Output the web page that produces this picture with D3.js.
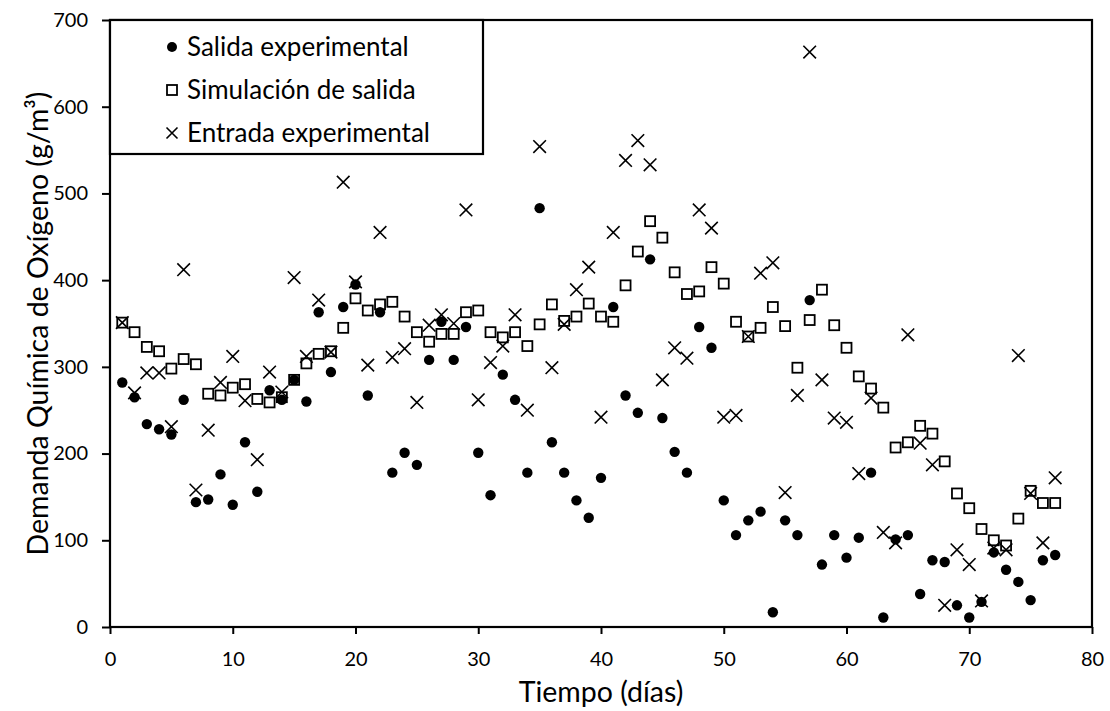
<!DOCTYPE html>
<html>
<head>
<meta charset="utf-8">
<script src="https://cdn.jsdelivr.net/npm/d3@7"></script>
<style>
  html, body { margin: 0; padding: 0; background: #fff; }
  svg { display: block; font-family: Lato, "Open Sans", sans-serif; }
</style>
</head>
<body>
<svg id="chart" width="1110" height="711"></svg>
<script>
// Days of measurement
const days = d3.range(1, 78);

// Chemical oxygen demand, g/m3
const salidaExperimental = [282,265,234,228,222,262,144,147,176,141,213,156,273,262,285,260,363,294,369,395,
  267,363,178,201,187,308,352,308,346,201,152,291,262,178,483,213,178,146,126,172,369,267,247,424,241,202,178,
  346,322,146,106,123,133,17,123,106,377,72,106,80,103,178,11,101,106,38,77,75,25,11,29,86,66,52,31,77,83];

const simulacionSalida = [351,340,323,318,298,309,303,269,267,276,280,263,259,265,285,304,315,318,345,379,
  365,372,375,358,340,329,338,338,363,365,340,334,340,324,349,372,353,358,373,358,352,394,433,468,449,409,384,
  387,415,396,352,335,345,369,347,299,354,389,348,322,289,275,253,207,213,232,223,191,154,137,113,100,94,125,157,143,143];

const entradaExperimental = [351,270,293,293,231,412,158,227,282,312,261,193,294,271,403,312,377,317,513,398,
  302,455,311,321,259,348,360,350,481,262,305,324,360,250,554,299,349,389,415,242,455,538,561,533,285,322,310,
  481,460,242,244,335,408,420,155,267,663,285,241,236,177,264,109,97,337,212,187,25,89,72,30,91,89,313,154,97,172];

const xTicks = [0,10,20,30,40,50,60,70,80];
const yTicks = [0,100,200,300,400,500,600,700];
const seriesNames = ["Salida experimental", "Simulación de salida", "Entrada experimental"];

const svg = d3.select("#chart");
const plotLeft = 110, plotRight = 1092, plotTop = 20, plotBottom = 627;

const x = d3.scaleLinear().domain([0, 80]).range([plotLeft, plotRight]);
const y = d3.scaleLinear().domain([0, 700]).range([plotBottom, plotTop]);

// Axes
const xAxis = svg.append("g")
  .attr("transform", `translate(0,${plotBottom})`)
  .call(d3.axisBottom(x).tickValues(xTicks).tickSize(7).tickPadding(18).tickFormat(d3.format("d")));
const yAxis = svg.append("g")
  .attr("transform", `translate(${plotLeft},0)`)
  .call(d3.axisLeft(y).tickValues(yTicks).tickSize(8).tickPadding(14).tickFormat(d3.format("d")));

[xAxis, yAxis].forEach(g => {
  g.select(".domain").remove();
  g.selectAll(".tick line").attr("stroke", "#000").attr("stroke-width", 2);
  g.selectAll(".tick text").attr("fill", "#000").style("font-size", "20px")
    .style("font-family", "Lato, sans-serif");
});

// Plot frame
svg.append("rect")
  .attr("x", plotLeft).attr("y", plotTop)
  .attr("width", plotRight - plotLeft).attr("height", plotBottom - plotTop)
  .attr("fill", "none").attr("stroke", "#000").attr("stroke-width", 2.2);

// Marks
const plot = svg.append("g");

plot.selectAll("circle.salida")
  .data(days)
  .join("circle")
  .attr("class", "salida")
  .attr("cx", (d) => x(d))
  .attr("cy", (d, i) => y(salidaExperimental[i]))
  .attr("r", 5.2)
  .attr("fill", "#000");

const sq = 10;
plot.selectAll("rect.sim")
  .data(days)
  .join("rect")
  .attr("class", "sim")
  .attr("x", (d) => x(d) - sq / 2)
  .attr("y", (d, i) => y(simulacionSalida[i]) - sq / 2)
  .attr("width", sq).attr("height", sq)
  .attr("fill", "none").attr("stroke", "#000").attr("stroke-width", 1.8);

const cross = 6.3;
const crossPath = (cx, cy) =>
  `M${cx - cross},${cy - cross}L${cx + cross},${cy + cross}M${cx - cross},${cy + cross}L${cx + cross},${cy - cross}`;
plot.selectAll("path.entrada")
  .data(days)
  .join("path")
  .attr("class", "entrada")
  .attr("d", (d, i) => crossPath(x(d), y(entradaExperimental[i])))
  .attr("stroke", "#000").attr("stroke-width", 1.6).attr("fill", "none");

// Legend
const legend = svg.append("g");
legend.append("rect")
  .attr("x", plotLeft).attr("y", plotTop)
  .attr("width", 373).attr("height", 134)
  .attr("fill", "#fff").attr("stroke", "#000").attr("stroke-width", 2.2);

const rowY = [47, 90, 133];
const mx = 172;
legend.append("circle").attr("cx", mx).attr("cy", rowY[0]).attr("r", 5).attr("fill", "#000");
legend.append("rect").attr("x", mx - 5).attr("y", rowY[1] - 5).attr("width", 10).attr("height", 10)
  .attr("fill", "none").attr("stroke", "#000").attr("stroke-width", 1.8);
legend.append("path").attr("d", (() => {
  const c = 5.5, cx = mx, cy = rowY[2];
  return `M${cx - c},${cy - c}L${cx + c},${cy + c}M${cx - c},${cy + c}L${cx + c},${cy - c}`;
})()).attr("stroke", "#000").attr("stroke-width", 1.6);

legend.selectAll("text")
  .data(seriesNames)
  .join("text")
  .attr("x", 187)
  .attr("y", (d, i) => rowY[i])
  .attr("dy", "0.36em")
  .style("font-size", "26px")
  .attr("fill", "#000")
  .text(d => d);

// Axis titles
svg.append("text")
  .attr("x", (plotLeft + plotRight) / 2)
  .attr("y", 702)
  .attr("text-anchor", "middle")
  .style("font-size", "28.5px")
  .text("Tiempo (días)");

svg.append("text")
  .attr("transform", `translate(48,${(plotTop + plotBottom) / 2}) rotate(-90)`)
  .attr("text-anchor", "middle")
  .style("font-size", "28.5px")
  .text("Demanda Química de Oxígeno (g/m³)");
</script>
</body>
</html>
